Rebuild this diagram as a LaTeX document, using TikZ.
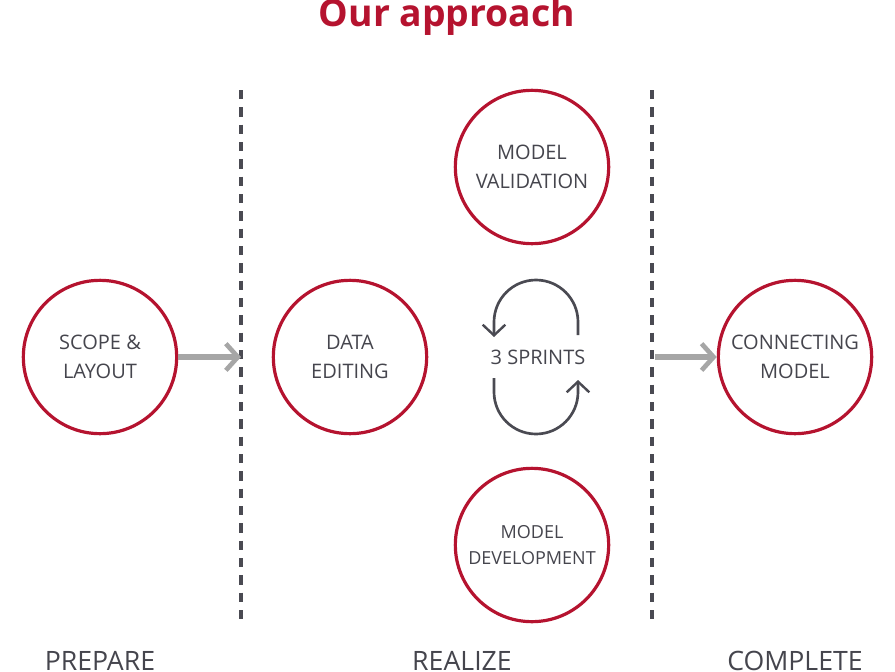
\documentclass[tikz,border=0pt]{standalone}
\usepackage{fontspec}
\setmainfont{Open Sans}
\usetikzlibrary{arrows.meta}
\definecolor{cred}{HTML}{B5132F}
\definecolor{ctext}{HTML}{45454D}
\definecolor{cgray}{HTML}{A6A6A6}
\definecolor{cdash}{HTML}{4A4A52}
\begin{document}
\begin{tikzpicture}[x=0.75pt,y=-0.75pt,
 stage/.style={circle,draw=cred,line width=2.4pt,minimum size=115pt,inner sep=0pt,align=center,text=ctext,font=\fontsize{15}{22}\selectfont},
 sep/.style={draw=cdash,line width=3pt,dash pattern=on 7pt off 6pt},
 flow/.style={draw=cgray,line width=4.5pt,-{Straight Barb[length=9pt,width=20pt,line width=3.5pt]}},
 loop/.style={draw=cdash,line width=2pt,-{Straight Barb[length=8pt,width=17pt,line width=1.8pt]}},
 phase/.style={text=ctext,font=\fontsize{20}{22}\selectfont,anchor=base}]
\useasboundingbox (0,0) rectangle (895,671);
\node[text=cred,font=\bfseries\fontsize{28}{30}\selectfont] (title) at (447,17) {Our approach};
\node[stage] (scope) at (100,357) {SCOPE \&\\LAYOUT};
\node[stage] (data) at (350,357) {DATA\\EDITING};
\node[stage] (val) at (532,167) {MODEL\\VALIDATION};
\node[stage,font=\fontsize{13.5}{19}\selectfont] (dev) at (532,545) {MODEL\\DEVELOPMENT};
\node[stage] (conn) at (795,357) {CONNECTING\\MODEL};
\coordinate (s1a) at (241,90); \coordinate (s1b) at (241,622);
\coordinate (s2a) at (652,90); \coordinate (s2b) at (652,622);
\draw[sep] (s1a) -- (s1b);
\draw[sep] (s2a) -- (s2b);
\coordinate (a1) at (241,357);
\coordinate (a2) at (655,357);
\draw[flow] (scope) -- (a1);
\draw[flow] (a2) -- (conn);
\node[text=ctext,font=\fontsize{15}{16}\selectfont] (spr) at (538,357) {3 SPRINTS};
\coordinate (t1) at (578,335); \coordinate (t2) at (494,337);
\coordinate (b1) at (494,378); \coordinate (b2) at (578,380);
\draw[loop] (t1) -- (578,322) arc[start angle=0,end angle=-180,radius=42] -- (t2);
\draw[loop] (b1) -- (494,392) arc[start angle=180,end angle=0,radius=42] -- (b2);
\node[phase] (p1) at (100,670) {PREPARE};
\node[phase] (p2) at (462,670) {REALIZE};
\node[phase] (p3) at (795,670) {COMPLETE};
\end{tikzpicture}
\end{document}
